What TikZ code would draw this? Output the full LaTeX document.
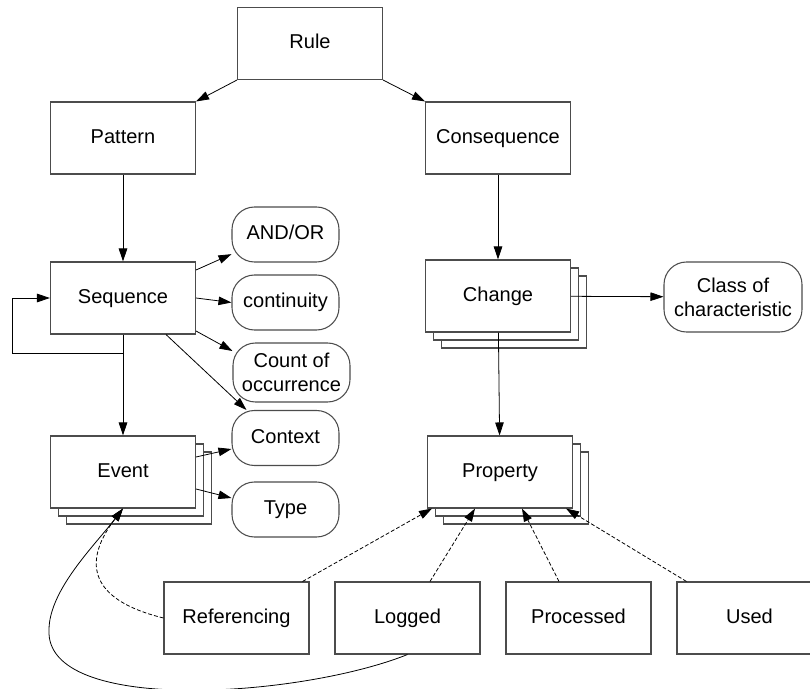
\documentclass[tikz,border=0pt]{standalone}
\usepackage{fontspec}
\setmainfont{Liberation Sans}
\usetikzlibrary{arrows.meta,shadows}
\begin{document}
\begin{tikzpicture}[
    >={Triangle[length=0.26cm,width=0.17cm]},
    line width=0.45pt,
    box/.style={rectangle, draw=black!70, line width=0.6pt, fill=white, font=\fontsize{11.4}{13.5}\selectfont, text height=8.4pt, text depth=2.4pt, minimum width=2.9cm, minimum height=1.44cm},
    stackbox/.style={box,
        copy shadow={shadow xshift=0.32cm, shadow yshift=-0.32cm, draw=black!70, line width=0.6pt},
        copy shadow={shadow xshift=0.16cm, shadow yshift=-0.16cm, draw=black!70, line width=0.6pt}},
    roundbox/.style={box, rounded corners=0.45cm, minimum width=2.14cm, minimum height=1.1cm, align=center},
    twoline/.style={text height={}, text depth={}},
    dotline/.style={dash pattern=on 2.2pt off 1.2pt}
    ]
    \clip (0,0) rectangle (16.2,-13.78);
    % \node[box](rule){Rule};
    % \node[box, below left=of rule](pattern){Pattern};
    \draw(6.2, -0.87) node [box](rule){Rule};
    \draw(2.46, -2.76) node [box](pattern){Pattern};
    \draw(9.96, -2.76) node [box](conseq){Consequence};
    \draw(2.46, -5.96) node [box](seq){Sequence};
    \draw(2.46, -9.44) node [stackbox](event){Event};
    \draw(9.96, -5.92) node [stackbox](change){Change};
    \draw(10.0, -9.44) node [stackbox](prop){Property};

    \draw(5.71, -4.69) node [roundbox](andor){AND/OR};
    \draw(5.71, -6.05) node [roundbox](cont){continuity};
    \draw(5.83, -7.45) node [roundbox, twoline, minimum width=2.34cm, minimum height=1.18cm](count){Count of\\occurrence};
    \draw(5.71, -8.76) node [roundbox](context){Context};
    \draw(5.71, -10.19) node [roundbox](type){Type};
    \draw(14.66, -5.94) node [roundbox, twoline, minimum width=2.76cm, minimum height=1.4cm](cls){Class of\\characteristic};

    \draw(4.73, -12.36) node [box](ref){Referencing};
    \draw(8.15, -12.36) node [box](logged){Logged};
    \draw(11.57, -12.36) node [box](proc){Processed};
    \draw(14.99, -12.36) node [box](used){Used};

    \coordinate (loop) at (0.24, -7.06);

    \draw[->] (rule.south west) -- (pattern.north east);
    \draw[->] (rule.south east) -- (conseq.north west);
    \draw[->] (pattern) -- (seq);
    \draw[->] (seq) -- (event);
    \draw[->] (seq.south) |- (loop) |- (seq.west);

    \draw[->] ([yshift=0.56cm]seq.east) -- (andor.200);
    \draw[->] (seq.east) -- (cont.west);
    \draw[->] ([yshift=-0.66cm]seq.east) -- (count.160);
    \draw[->] ([xshift=0.86cm]seq.south) -- ([xshift=0.3cm]context.north west);
    \draw[->] ([yshift=0.3cm]event.east) -- ([yshift=-0.22cm]context.west);
    \draw[->] ([yshift=-0.34cm]event.east) -- ([yshift=0.23cm]type.west);

    \draw[->] (conseq) -- (change);
    \draw[->] (change) -- (cls);
    \draw[->] (change) -- (prop);

    \draw[->, dotline] ([xshift=-0.14cm]ref.north east) -- ([xshift=0.1cm]prop.south west);
    \draw[->, dotline] ([xshift=0.45cm]logged.north) -- ([xshift=-0.5cm]prop.south);
    \draw[->, dotline] ([xshift=-0.39cm]proc.north) -- ([xshift=0.44cm]prop.south);
    \draw[->, dotline] ([xshift=0.2cm]used.north west) -- ([xshift=-0.14cm]prop.south east);

    % back to the event
    \draw[->, dotline] (ref.west) .. controls (1.4, -11.9) and (1.9, -10.9) .. (event.south);
    \draw[->] (logged.south) .. controls (6.0, -13.95) and (0.9, -14.3) .. (0.98, -12.6)
        .. controls (0.98, -11.8) and (1.9, -10.9) .. (event.south);
\end{tikzpicture}
\end{document}
